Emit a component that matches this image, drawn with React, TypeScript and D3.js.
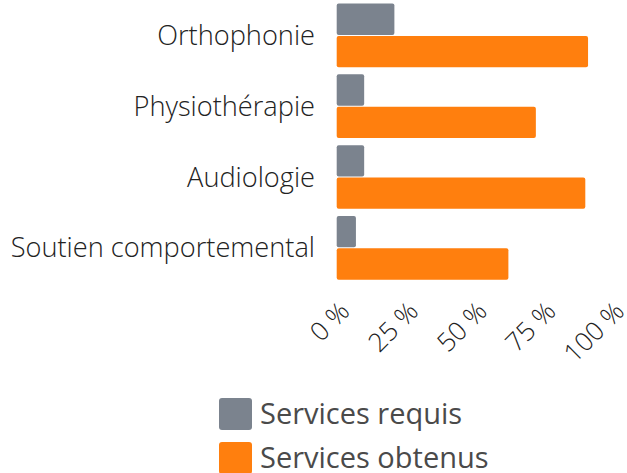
import * as d3 from "d3";

const categories = ["Orthophonie", "Physiothérapie", "Audiologie", "Soutien comportemental"];
const seriesNames = ["Services requis", "Services obtenus"];
const servicesRequis = [21, 10, 10, 7];
const servicesObtenus = [91.5, 72.5, 90.5, 62.5];
const tickValues = [0, 25, 50, 75, 100];

const colors = ["#7b838e", "#ff7f0e"];
const font = "'Open Sans', sans-serif";

export default function App() {
  const width = 627;
  const height = 473;

  const x = d3.scaleLinear().domain([0, 100]).range([336.7, 611.4]);
  const y = d3
    .scaleBand<string>()
    .domain(categories)
    .range([0, 283.2])
    .paddingInner(0.1)
    .paddingOuter(0.05);
  const ySub = d3
    .scaleBand<string>()
    .domain(seriesNames)
    .range([0, y.bandwidth()])
    .paddingInner(0.03);

  const values = [servicesRequis, servicesObtenus];

  return (
    <svg
      width={width}
      height={height}
      style={{ position: "absolute", left: 0, top: 0, fontFamily: font }}
    >
      {/* bars */}
      {categories.map((c, i) => (
        <g key={c} transform={`translate(0, ${y(c)})`}>
          {seriesNames.map((s, j) => (
            <rect
              key={s}
              x={x(0)}
              y={ySub(s)}
              width={x(values[j][i]) - x(0)}
              height={ySub.bandwidth()}
              rx={2}
              fill={colors[j]}
            />
          ))}
        </g>
      ))}

      {/* category labels */}
      {categories.map((c) => (
        <text
          key={c}
          x={315}
          y={(y(c) ?? 0) + y.bandwidth() / 2}
          dy="0.35em"
          textAnchor="end"
          fontSize={27.2}
          fontWeight={300}
          fill="#222"
        >
          {c}
        </text>
      ))}

      {/* x tick labels */}
      {tickValues.map((t) => (
        <text
          key={t}
          transform={`translate(${x(t) + 14.5}, 313) rotate(-45)`}
          textAnchor="end"
          fontSize={26}
          fontWeight={300}
          fill="#222"
        >
          {`${t} %`}
        </text>
      ))}

      {/* legend */}
      {seriesNames.map((s, j) => (
        <g key={s} transform={`translate(219, ${398 + j * 44})`}>
          <rect width={33} height={32} rx={3} fill={colors[j]} />
          <text x={41} y={16} dy="0.35em" fontSize={29} fill="#4a4a4a">
            {s}
          </text>
        </g>
      ))}
    </svg>
  );
}
